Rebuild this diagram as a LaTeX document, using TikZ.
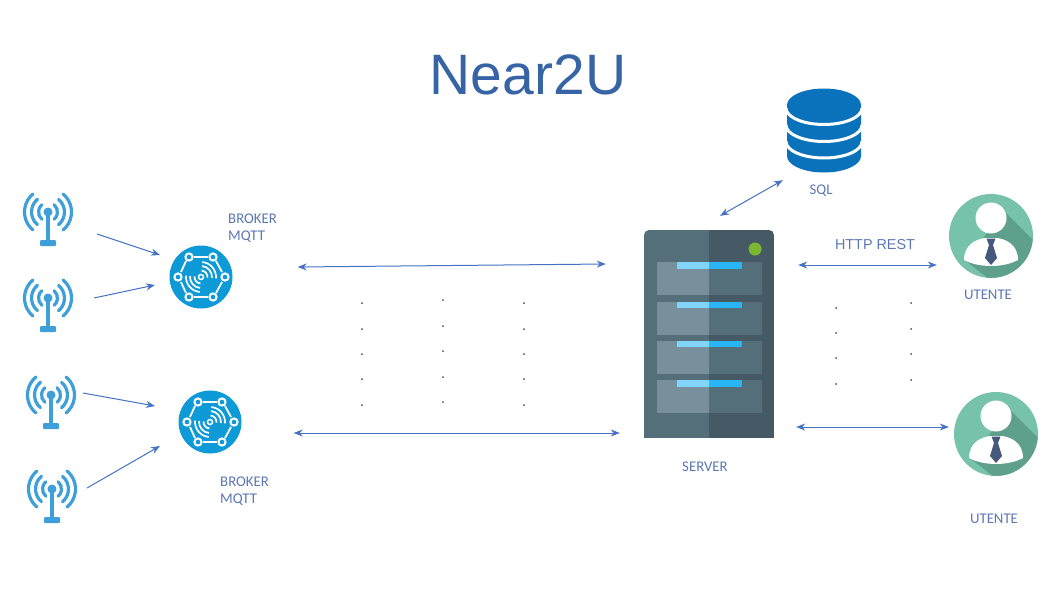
\documentclass[tikz,border=0pt]{standalone}
\usepackage{fontspec}
\setmainfont{Carlito}
\newfontfamily\arialfont{Liberation Sans}
\usetikzlibrary{arrows.meta}
\definecolor{linkblue}{HTML}{4472C4}
\definecolor{textblue}{HTML}{5B78B4}
\definecolor{titleblue}{HTML}{3764A4}
\definecolor{towerblue}{HTML}{3F9FD9}
\definecolor{brokerblue}{HTML}{0E9AD7}
\definecolor{dbblue}{HTML}{0A72BA}
\definecolor{srvdark}{HTML}{465A65}
\definecolor{srvmid}{HTML}{546E7A}
\definecolor{srvlight}{HTML}{78909C}
\definecolor{lampleft}{HTML}{81D4FA}
\definecolor{lampright}{HTML}{29B6F6}
\definecolor{lampgreen}{HTML}{7CB82F}
\definecolor{userteal}{HTML}{76C2AB}
\definecolor{usershade}{HTML}{5FA08C}
\definecolor{tieblue}{HTML}{44597C}
\tikzstyle{arrow} = [line width=1pt,color=linkblue,-{Stealth[length=9pt,width=7pt]}]
\tikzstyle{dblarrow} = [line width=1pt,color=linkblue,{Stealth[length=9pt,width=7pt]}-{Stealth[length=9pt,width=7pt]}]
\tikzstyle{caption} = [font=\fontsize{14.8}{16}\selectfont, text=textblue, align=left, inner sep=0pt]
\tikzstyle{towerhead} = [circle, minimum size=9pt, inner sep=0pt, fill=towerblue]
\tikzstyle{brokerdisc} = [circle, minimum size=63pt, inner sep=0pt, fill=brokerblue]
\tikzstyle{userdisc} = [circle, minimum size=84pt, inner sep=0pt, fill=userteal]
\tikzstyle{dbbox} = [rectangle, minimum width=74pt, minimum height=85pt, inner sep=0pt]
\tikzstyle{serverbox} = [rectangle, minimum width=130pt, minimum height=208pt, inner sep=0pt]
\tikzset{
  antenna/.pic={
    \fill [towerblue] (-1.8,0) rectangle (1.8,30);
    \fill [towerblue, rounded corners=1pt] (-8,28) rectangle (8,34);
    \foreach \r in {9.5,16.5,23.5} {
      \draw [towerblue, line width=3.2pt, line cap=round] (-50:\r) arc (-50:50:\r);
      \draw [towerblue, line width=3.2pt, line cap=round] (130:\r) arc (130:230:\r);
    }
  },
  brokermesh/.pic={
    \foreach \a/\b in {-12/-20,12/-20,24/0,12/20,-12/20,-23/0}
      \draw [white, line width=2pt] (\a,\b) circle (3.6);
    \foreach \a/\b/\c/\d in {-7/-20/7/-20, 15/-16/21/-5, 21/5/15/16, 7/20/-7/20, -15/16/-20/5, -20/-5/-15/-16}
      \draw [white, line width=1.8pt] (\a,\b) -- (\c,\d);
    \draw [white, line width=1.5pt] (0,0) circle (2.5);
    \foreach \r in {6.5,11,15} {
      \draw [white, line width=1.7pt] (0,0) ++(-85:\r) arc (-85:5:\r);
      \draw [white, line width=1.7pt] (0,0) ++(95:\r) arc (95:185:\r);
    }
  },
  dbstack/.pic={
    \fill [dbblue] (-37,-25) rectangle (37,25.5) (-37,25.5) arc (180:0:37 and 16.5) -- cycle;
    \foreach \y in {-22.5,-5.5,11}
      \draw [white, line width=3pt] (-38,\y) arc (180:0:38 and 16.5);
    \fill [dbblue] (0,-25.5) ellipse (37 and 16.5);
  },
  rack/.pic={
    \fill [srvlight] (0,0) rectangle (52.3,33);
    \fill [srvmid] (52.3,0) rectangle (105,33);
    \fill [lampleft] (20,0) rectangle (52.3,6.5);
    \fill [lampright] (52.3,0) rectangle (85.5,6.5);
  },
  rackserver/.pic={
    \begin{scope}
      \clip [rounded corners=5pt] (-65,-104) rectangle (65,120);
      \fill [srvmid] (-65,-104) rectangle (0,104);
      \fill [srvdark] (0,-104) rectangle (65,104);
    \end{scope}
    \foreach \y in {-72,-32.5,6.5,46}
      \pic at (-52.3,\y) {rack};
    \fill [lampgreen] (46,-85) circle (6.5);
  },
  person/.pic={
    \begin{scope}
      \clip (0,0) circle (41.8);
      \fill [usershade] (13,-25) -- (60,22) -- (20,60) -- (-25,25) -- cycle;
    \end{scope}
    \fill [white] (0,-18) circle (15.5);
    \fill [white] (-27,24) .. controls (-27,8) and (-14,3) .. (-6,2) -- (6,2)
      .. controls (14,3) and (27,8) .. (27,24) .. controls (12,32) and (-12,32) .. (-27,24) -- cycle;
    \fill [tieblue] (-4.5,2.5) -- (4.5,2.5) -- (2,9) -- (6,22) -- (0,29) -- (-6,22) -- (-2,9) -- cycle;
  }
}
\begin{document}
\begin{tikzpicture}[x=1pt,y=-1pt]
    \useasboundingbox (0,0) rectangle (1058,595);
    \node [text=titleblue, font=\arialfont\fontsize{57}{60}\selectfont, inner sep=0pt] at (528,75) (title) {Near2U};

    \node [towerhead] at (48,212) (tower1) {};
    \node [towerhead] at (48,298) (tower2) {};
    \node [towerhead] at (51,395) (tower3) {};
    \node [towerhead] at (52,489) (tower4) {};
    \pic at (48,212) {antenna};
    \pic at (48,298) {antenna};
    \pic at (51,395) {antenna};
    \pic at (52,489) {antenna};

    \node [brokerdisc] at (201,277) (broker1) {};
    \node [brokerdisc] at (210,422) (broker2) {};
    \pic at (201,277) {brokermesh};
    \pic at (210,422) {brokermesh};
    \node [caption, anchor=west] at (228,228.5) (brokerlabel1) {BROKER\\[1pt]MQTT};
    \node [caption, anchor=west] at (220,491.5) (brokerlabel2) {BROKER\\[1pt]MQTT};

    \node [dbbox] at (824,130.5) (db) {};
    \pic at (824,130.5) {dbstack};
    \node [caption] at (821,191) (sqllabel) {SQL};

    \node [serverbox] at (709,334) (server) {};
    \pic at (709,334) {rackserver};
    \node [caption] at (705,467) (serverlabel) {SERVER};

    \node [userdisc] at (991,236) (user1) {};
    \node [userdisc] at (996,434) (user2) {};
    \pic at (991,236) {person};
    \pic at (996,434) {person};
    \node [caption] at (988,295) (userlabel1) {UTENTE};
    \node [caption] at (994,519) (userlabel2) {UTENTE};
    \node [caption, font=\arialfont\fontsize{14.4}{16}\selectfont] at (875,245) (restlabel) {HTTP REST};

    % tower links
    \draw [arrow] ([shift={(49,22)}]tower1.center) -- ([shift={(-41,-22)}]broker1.center);
    \draw [arrow] ([shift={(46,0)}]tower2.center) -- ([shift={(-46,8)}]broker1.center);
    \draw [arrow] ([shift={(32,-2)}]tower3.center) -- ([shift={(-55,-16)}]broker2.center);
    \draw [arrow] ([shift={(35,-1)}]tower4.center) -- ([shift={(-50,24)}]broker2.center);
    % server links
    \draw [dblarrow] ([shift={(65,-10)}]broker1.east) -- ([shift={(-38,-70)}]server.west);
    \draw [dblarrow] ([shift={(52,11)}]broker2.east) -- ([shift={(-24,99)}]server.west);
    \draw [dblarrow] ([shift={(11,-14)}]server.north) -- ([shift={(-4,7)}]db.south west);
    \draw [dblarrow] ([shift={(24,-69)}]server.east) -- ([shift={(-12,29)}]user1.west);
    \draw [dblarrow] ([shift={(22,93)}]server.east) -- ([shift={(-5,-7)}]user2.west);

    % dots
    \foreach \x in {362,524}
      \foreach \y in {303,329,354,379,405}
        \fill [black!70] (\x,\y) circle (1);
    \foreach \y in {300,326,351,377,402}
      \fill [black!70] (443,\y) circle (1);
    \foreach \y in {308,333,358,384}
      \fill [black!70] (836,\y) circle (1);
    \foreach \y in {303,329,354,380}
      \fill [black!70] (911,\y) circle (1);
\end{tikzpicture}
\end{document}
